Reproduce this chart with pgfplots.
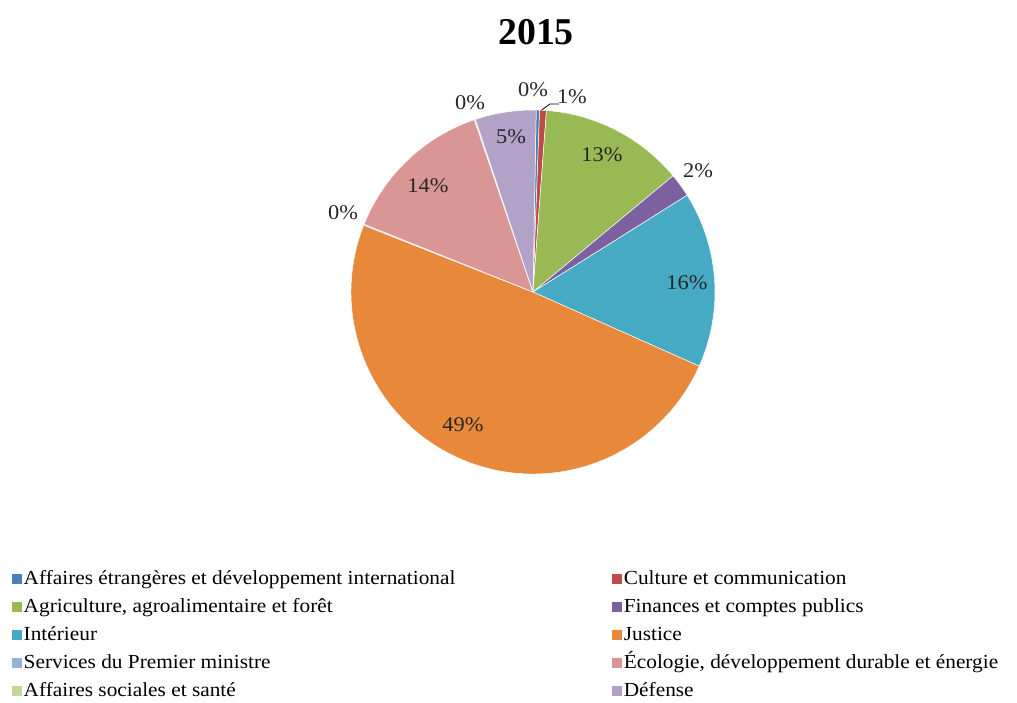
\documentclass[border=0pt]{standalone}
\usepackage{fontspec}
\setmainfont{Liberation Serif}
\newfontfamily\widefont{Liberation Serif}[FakeStretch=1.07]
\usepackage{pgfplots}
\usepackage{pgfplotstable}
\pgfplotsset{compat=1.18}

\definecolor{c1}{HTML}{4A7EBB}
\definecolor{c2}{HTML}{BE4B48}
\definecolor{c3}{HTML}{98B954}
\definecolor{c4}{HTML}{7D60A0}
\definecolor{c5}{HTML}{46AAC5}
\definecolor{c6}{HTML}{E8883A}
\definecolor{c7}{HTML}{95B3D7}
\definecolor{c8}{HTML}{D99694}
\definecolor{c9}{HTML}{C3D69B}
\definecolor{c10}{HTML}{B3A2C7}

% share in percent, colour, label position (axis units), label text
\pgfplotstableread{
value color lx     ly    lab
0.3   c1    0.000  1.110 0
0.6   c2    0.214  1.071 1
12.8  c3    0.379  0.753 13
2.1   c4    0.907  0.665 2
15.6  c5    0.846  0.049 16
49.3  c6   -0.385 -0.731 49
0.1   c7   -1.044  0.434 0
13.7  c8   -0.577  0.582 14
0.1   c9   -0.346  1.038 0
5.4   c10  -0.121  0.852 5
}\piedata

\begin{document}
\begin{tikzpicture}
\useasboundingbox (0,0) rectangle (1017bp,703bp);
\node[font=\bfseries\fontsize{38}{44}\selectfont] at (536bp,671bp) {2015};
\begin{axis}[
  at={(533bp,411bp)}, anchor=center,
  width=364bp, height=364bp, scale only axis,
  xmin=-1, xmax=1, ymin=-1, ymax=1,
  hide axis, clip=false,
  legend columns=2,
  legend image code/.code={\fill[#1] (0bp,-4.5bp) rectangle (9bp,4.5bp);},
  legend style={draw=none, fill=none, at={(-0.931,-0.255)}, anchor=north west,
    inner sep=0pt, font=\widefont\fontsize{20}{24}\selectfont,
    nodes={inner sep=2bp, text height=15bp, text depth=5bp},
    cells={anchor=west}, row sep=4bp,
    /tikz/every even column/.append style={column sep=155bp}},
]
\pgfplotsextra{
  \pgfmathsetmacro\cum{0}
  \pgfplotsforeachungrouped \i in {0,...,9}{
    \pgfplotstablegetelem{\i}{value}\of\piedata \let\v\pgfplotsretval
    \pgfplotstablegetelem{\i}{color}\of\piedata \let\c\pgfplotsretval
    \pgfmathsetmacro\a{89-3.6*\cum}
    \pgfmathsetmacro\b{\a-3.6*\v}
    \fill[fill=\c, draw=white, line width=0.5pt]
      (axis cs:0,0) -- ++(\a:182bp) arc[start angle=\a, end angle=\b, radius=182bp] -- cycle;
    \pgfmathsetmacro\cum{\cum+\v}
  }
  \pgfplotsforeachungrouped \i in {0,...,9}{
    \pgfplotstablegetelem{\i}{lx}\of\piedata \let\lx\pgfplotsretval
    \pgfplotstablegetelem{\i}{ly}\of\piedata \let\ly\pgfplotsretval
    \pgfplotstablegetelem{\i}{lab}\of\piedata \let\lab\pgfplotsretval
    \node[font=\widefont\fontsize{21}{24}\selectfont, text=black!85] at (axis cs:\lx,\ly) {\lab\%};
  }
  \draw[black, line width=0.8pt] (axis cs:0.048,1.0) -- (axis cs:0.093,1.033) -- (axis cs:0.143,1.033);
}
\addlegendimage{c1}\addlegendentry{Affaires étrangères et développement international}
\addlegendimage{c2}\addlegendentry{Culture et communication}
\addlegendimage{c3}\addlegendentry{Agriculture, agroalimentaire et forêt}
\addlegendimage{c4}\addlegendentry{Finances et comptes publics}
\addlegendimage{c5}\addlegendentry{Intérieur}
\addlegendimage{c6}\addlegendentry{Justice}
\addlegendimage{c7}\addlegendentry{Services du Premier ministre}
\addlegendimage{c8}\addlegendentry{Écologie, développement durable et énergie}
\addlegendimage{c9}\addlegendentry{Affaires sociales et santé}
\addlegendimage{c10}\addlegendentry{Défense}
\end{axis}
\end{tikzpicture}
\end{document}
